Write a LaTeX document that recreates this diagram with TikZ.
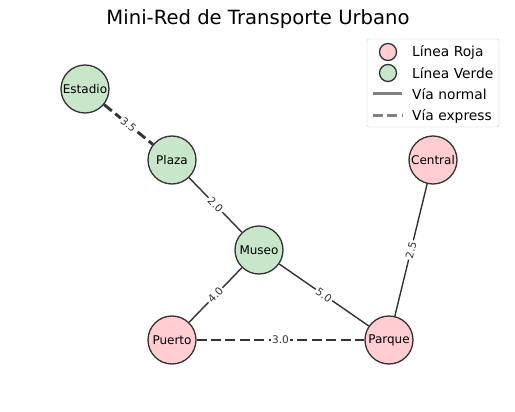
\documentclass[tikz,border=0pt]{standalone}
\usepackage{fontspec}
\setmainfont{DejaVu Sans}
\usetikzlibrary{positioning}

\definecolor{rojaclara}{HTML}{FFCDD2}
\definecolor{verdeclara}{HTML}{C8E6C9}
\definecolor{borde}{HTML}{333333}
\definecolor{marco}{HTML}{CCCCCC}

\begin{document}
\begin{tikzpicture}[x=1pt, y=-1pt,
  estacion/.style={circle, draw=borde, line width=1.3pt, minimum size=48pt, inner sep=0pt, font=\fontsize{12}{14}\selectfont},
  lroja/.style={estacion, fill=rojaclara},
  lverde/.style={estacion, fill=verdeclara},
  via/.style={draw=borde, line width=1.4pt},
  express/.style={draw=borde, line width=2.9pt, dash pattern=on 10pt off 4.4pt},
  peso/.style={sloped, fill=white, inner sep=1.5pt, text=borde, font=\fontsize{10.5}{12}\selectfont},
  leyenda/.style={font=\fontsize{13.8}{16}\selectfont, anchor=west, inner sep=0pt}]
\fill[white] (0,0) rectangle (515,412);
\useasboundingbox (0,0) rectangle (515,412);

\node[font=\fontsize{19.6}{23}\selectfont] (titulo) at (258,19) {Mini-Red de Transporte Urbano};

% estaciones
\node[lverde] (estadio) at (85,89) {Estadio};
\node[lverde] (plaza) at (172,160) {Plaza};
\node[lverde] (museo) at (259,250) {Museo};
\node[lroja] (central) at (433,160) {Central};
\node[lroja] (puerto) at (172,340) {Puerto};
\node[lroja] (parque) at (389,340) {Parque};

% vias
\draw[express] (estadio) -- node[peso] {3.5} (plaza);
\draw[via] (plaza) -- node[peso] {2.0} (museo);
\draw[via] (museo) -- node[peso] {4.0} (puerto);
\draw[via] (museo) -- node[peso] {5.0} (parque);
\draw[via] (parque) -- node[peso] {2.5} (central);
\draw[express] (puerto) -- node[peso] {3.0} (parque);

% leyenda
\draw[marco, rounded corners=2pt, fill=white] (367,39) rectangle (499,127);
\node[circle, draw=borde, fill=rojaclara, line width=1.3pt, minimum size=17pt, inner sep=0pt] (mroja) at (388,52) {};
\node[circle, draw=borde, fill=verdeclara, line width=1.3pt, minimum size=17pt, inner sep=0pt] (mverde) at (388,73) {};
\coordinate (n1) at (373,94);
\coordinate (n2) at (402,94);
\coordinate (e1) at (373,116);
\coordinate (e2) at (402,116);
\draw[gray, line width=3pt] (n1) -- (n2);
\draw[gray, line width=3pt, dash pattern=on 10pt off 4.4pt] (e1) -- (e2);
\node[leyenda] (troja) at (412,52) {Línea Roja};
\node[leyenda] (tverde) at (412,73) {Línea Verde};
\node[leyenda] (tnormal) at (412,94) {Vía normal};
\node[leyenda] (texpress) at (412,116) {Vía express};
\end{tikzpicture}
\end{document}
